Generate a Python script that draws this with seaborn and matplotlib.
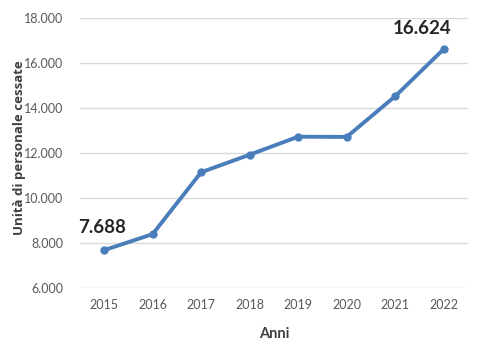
import matplotlib
matplotlib.use("Agg")
import matplotlib.pyplot as plt
import matplotlib.ticker as mticker
import seaborn as sns
import pandas as pd

# data
anni = ["2015", "2016", "2017", "2018", "2019", "2020", "2021", "2022"]
cessate = [7688, 8400, 11150, 11930, 12730, 12720, 14530, 16624]
y_ticks = [6000, 8000, 10000, 12000, 14000, 16000, 18000]

df = pd.DataFrame({"Anni": anni, "cessate": cessate})

sns.set_style("white")
plt.rcParams["font.family"] = ["Lato", "DejaVu Sans"]

fig = plt.figure(figsize=(4.81, 3.62), dpi=100)
ax = fig.add_axes([0.166, 0.204, 0.807, 0.746])

sns.lineplot(x="Anni", y="cessate", data=df, ax=ax, color="#4a7ebb",
             linewidth=2.8, marker="o", markersize=6, markeredgewidth=0)

ax.set_ylim(6000, 18000)
ax.set_xlim(-0.5, len(anni) - 0.5)
ax.set_yticks(y_ticks)
ax.yaxis.set_major_formatter(mticker.FuncFormatter(lambda v, p: f"{int(v):,}".replace(",", ".")))
ax.grid(axis="y", color="#d9d9d9", linewidth=1)
ax.set_axisbelow(True)

for spine in ax.spines.values():
    spine.set_visible(False)
ax.tick_params(axis="both", length=0, labelsize=9, colors="#595959")
ax.tick_params(axis="y", pad=12)
ax.tick_params(axis="x", pad=8)

ax.set_xlabel("Anni", fontsize=10.5, fontweight="bold", color="#404040")
ax.xaxis.set_label_coords(0.5, -0.145)
ax.set_ylabel("Unità di personale cessate", fontsize=9.5, fontweight="bold",
              color="#404040", family=["Open Sans", "DejaVu Sans"])
ax.yaxis.set_label_coords(-0.14, 0.52)

# value labels for first and last point
ax.text(-0.05, cessate[0] + 650, "7.688", fontsize=13.5, fontweight="bold",
        color="#262626", ha="center", va="bottom")
ax.text(6.55, cessate[-1] + 550, "16.624", fontsize=13.5, fontweight="bold",
        color="#262626", ha="center", va="bottom")

plt.savefig("out.png", dpi=100)
